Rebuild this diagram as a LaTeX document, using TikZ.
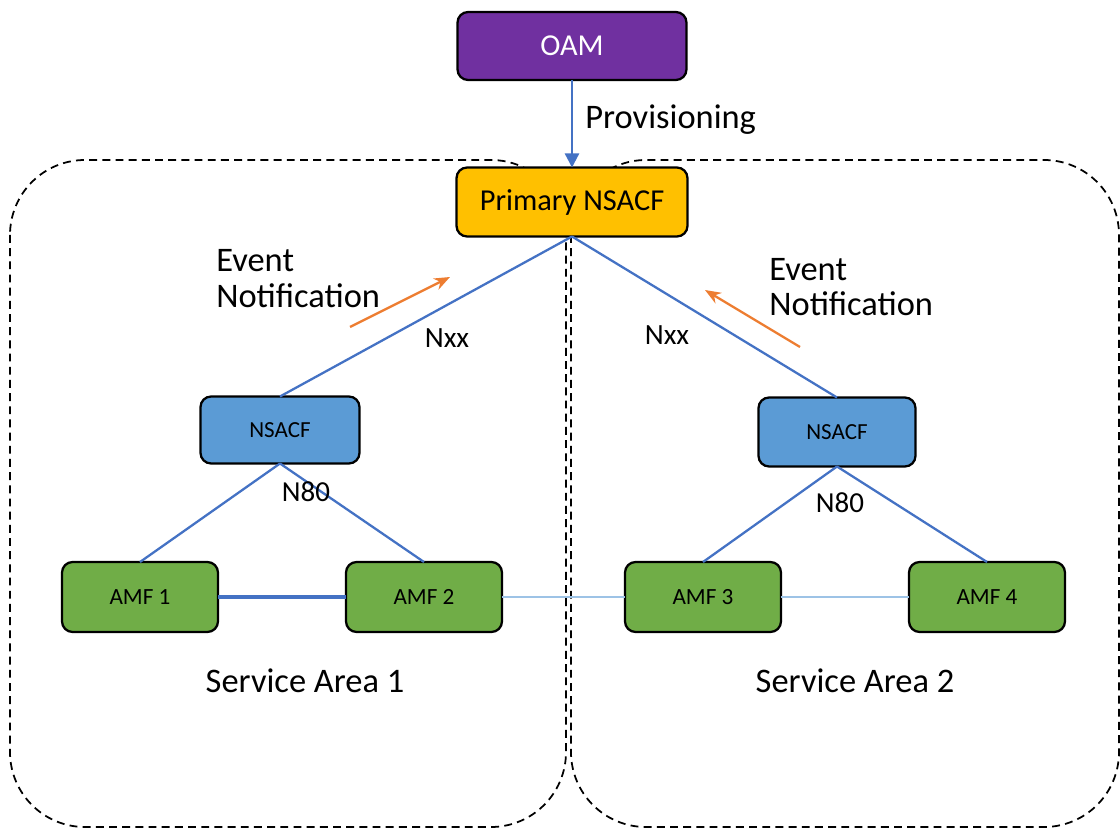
\documentclass[tikz,border=0pt]{standalone}
\usepackage{fontspec}
\setmainfont{Carlito}
\usetikzlibrary{arrows.meta}
\definecolor{oampurple}{HTML}{7030A0}
\definecolor{primgold}{HTML}{FFC000}
\definecolor{nsblue}{HTML}{5B9BD5}
\definecolor{amfgreen}{HTML}{70AD47}
\definecolor{linkblue}{HTML}{4472C4}
\definecolor{paleblue}{HTML}{9DC3E6}
\definecolor{evorange}{HTML}{ED7D31}
\tikzset{
  nfbox/.style={draw=black,line width=1.3pt,rounded corners=6pt,inner sep=0pt,outer sep=0pt},
  link/.style={draw=linkblue,line width=1.3pt},
  area/.style={draw=black,line width=1pt,dash pattern=on 4.5pt off 3pt,rounded corners=1.5cm},
  lbl/.style={font=\fontsize{19.6}{20.4}\selectfont,align=left,inner sep=0pt}
}
\begin{document}
\begin{tikzpicture}[x=0.02cm,y=-0.02cm]
                \useasboundingbox (0,0) rectangle (1120,828);
                % service areas
                \draw[area] (10,160) rectangle (566,827);
                \draw[area] (571,160) rectangle (1119,827);
                % network functions
                \node[nfbox,fill=oampurple,text=white,minimum width=4.58cm,minimum height=1.36cm,
                    font=\fontsize{17.3}{20}\selectfont] (oam) at (572,46) {OAM};
                \node[nfbox,fill=primgold,minimum width=4.62cm,minimum height=1.38cm,
                    font=\fontsize{17.3}{20}\selectfont] (prim) at (572,202) {Primary NSACF};
                \node[nfbox,fill=nsblue,minimum width=3.18cm,minimum height=1.34cm,
                    font=\fontsize{13.1}{15}\selectfont] (nsacfA) at (280,430) {NSACF};
                \node[nfbox,fill=nsblue,minimum width=3.14cm,minimum height=1.38cm,
                    font=\fontsize{13.1}{15}\selectfont] (nsacfB) at (837,432) {NSACF};
                \foreach \i/\x in {1/140,2/424,3/703,4/987}
                    \node[nfbox,fill=amfgreen,minimum width=3.12cm,minimum height=1.4cm,
                        font=\fontsize{13.2}{15}\selectfont] (amf\i) at (\x,597) {AMF \i};
                % interfaces
                \draw[link,-{Triangle[length=8pt,width=8pt]}] (oam.south) -- (prim.north)
                    node[lbl,pos=0.45,anchor=west,xshift=7pt] (prov) {Provisioning};
                \draw[link] (prim.south) -- (nsacfA.north);
                \draw[link] (prim.south) -- (nsacfB.north);
                \draw[link] (nsacfA.south) -- (amf1.north);
                \draw[link] (nsacfA.south) -- (amf2.north);
                \draw[link] (nsacfB.south) -- (amf3.north);
                \draw[link] (nsacfB.south) -- (amf4.north);
                \draw[draw=linkblue,line width=2pt] (amf1.east) -- (amf2.west);
                \draw[draw=paleblue,line width=1pt] (amf2.east) -- (amf3.west);
                \draw[draw=paleblue,line width=1pt] (amf3.east) -- (amf4.west);
                % labels
                \node[font=\fontsize{16.7}{18}\selectfont,inner sep=0pt] (nxxA) at (447,338) {Nxx};
                \node[font=\fontsize{16.7}{18}\selectfont,inner sep=0pt] (nxxB) at (667,335) {Nxx};
                \node[font=\fontsize{16.5}{18}\selectfont,inner sep=0pt] (nA) at (306,492) {N80};
                \node[font=\fontsize{16.5}{18}\selectfont,inner sep=0pt] (nB) at (840,503) {N80};
                \node[lbl,anchor=west] (evA) at (216,279) {Event\\Notification};
                \node[lbl,anchor=west] (evB) at (769,287) {Event\\Notification};
                \node[lbl] (saA) at (305,681) {Service Area 1};
                \node[lbl] (saB) at (855,681) {Service Area 2};
                % event notification arrows
                \coordinate (evA1) at (350,327);
                \coordinate (evA2) at (450,277);
                \coordinate (evB1) at (800,347);
                \coordinate (evB2) at (705,290);
                \draw[evorange,line width=1.3pt,-{Stealth[length=9pt,width=7pt]}] (evA1) -- (evA2);
                \draw[evorange,line width=1.3pt,-{Stealth[length=9pt,width=7pt]}] (evB1) -- (evB2);
            \end{tikzpicture}
\end{document}
